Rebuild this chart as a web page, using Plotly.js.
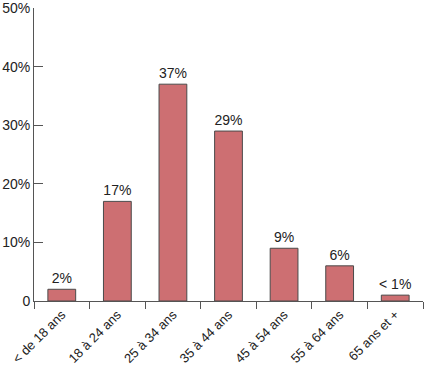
<!DOCTYPE html>
<html><head><meta charset="utf-8">
<script src="https://cdn.plot.ly/plotly-3.0.1.min.js"></script>
<style>html,body{margin:0;padding:0;background:#fff;}#chart{width:425px;height:366px;}</style>
</head><body><div id="chart"></div>
<script>
var categories = ["< de 18 ans","18 à 24 ans","25 à 34 ans","35 à 44 ans","45 à 54 ans","55 à 64 ans","65 ans et +"];
var values = [2, 17, 37, 29, 9, 6, 1];
var barLabels = ["2%","17%","37%","29%","9%","6%","< 1%"];
var yTickVals = [0,10,20,30,40,50];
var yTickText = ["0","10%","20%","30%","40%","50%"];

var trace = {
  type: "bar",
  x: categories,
  y: values,
  text: barLabels,
  textposition: "outside",
  texttemplate: "%{text}",
  constraintext: "none",
  cliponaxis: false,
  textfont: {family: "Liberation Sans, Arial, sans-serif", size: 14, color: "#222"},
  marker: {color: "#cd6f72", line: {color: "#4a4a4a", width: 1}},
  hoverinfo: "none"
};
var layout = {
  width: 425, height: 366,
  margin: {l: 34, r: 2, t: 8, b: 65},
  paper_bgcolor: "#fff", plot_bgcolor: "#fff",
  bargap: 0.5,
  showlegend: false,
  font: {family: "Liberation Sans, Arial, sans-serif", size: 14, color: "#222"},
  xaxis: {
    type: "category",
    tickangle: -45,
    ticks: "outside", tickson: "boundaries", ticklen: 7, tickcolor: "#555", tickwidth: 1,
    showline: true, linecolor: "#555", linewidth: 1,
    showgrid: false, zeroline: false,
    tickfont: {size: 13, color: "#222"},
    ticklabeloverflow: "allow",
    automargin: false
  },
  yaxis: {
    range: [0, 50],
    tickvals: yTickVals, ticktext: yTickText,
    ticks: "inside", ticklen: 9, tickcolor: "#555", tickwidth: 1,
    showline: true, linecolor: "#555", linewidth: 1,
    showgrid: false, zeroline: false,
    tickfont: {size: 14, color: "#222"},
    ticklabeloverflow: "allow",
    automargin: false
  }
};
Plotly.newPlot("chart", [trace], layout, {displayModeBar: false, staticPlot: true});
</script></body></html>
